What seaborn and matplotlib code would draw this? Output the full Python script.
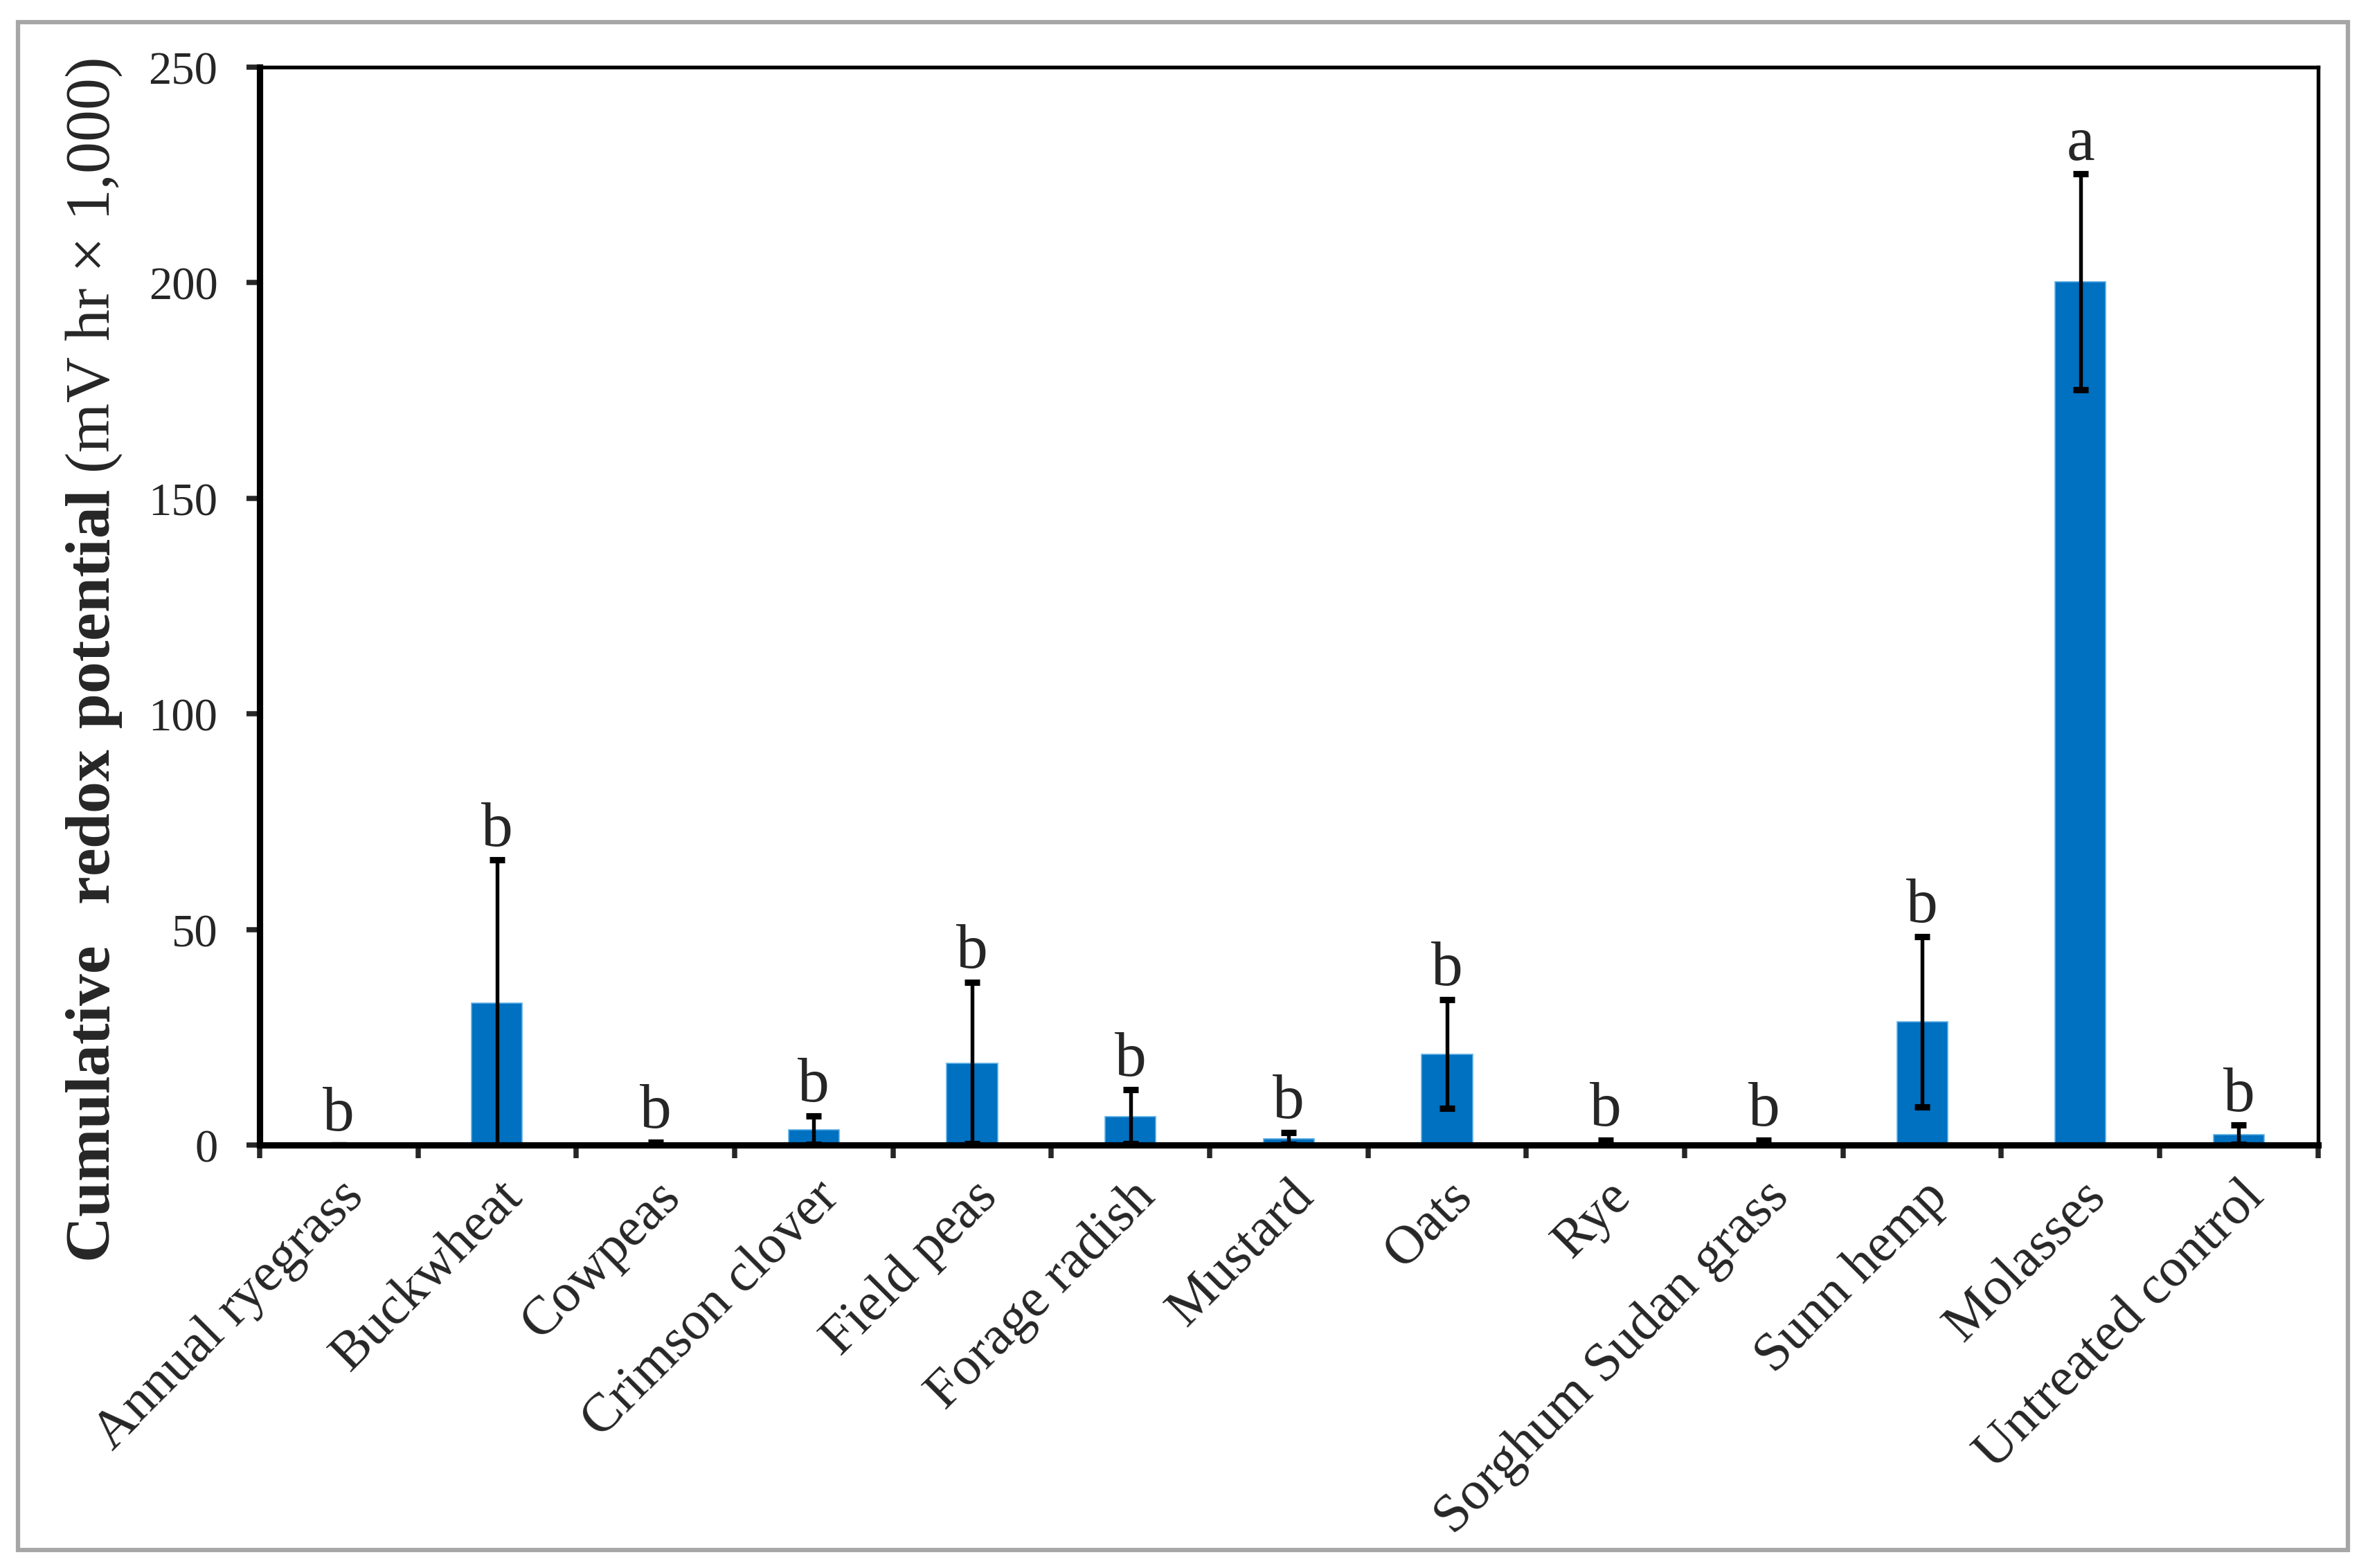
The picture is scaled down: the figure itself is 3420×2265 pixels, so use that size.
import numpy as np
import matplotlib
matplotlib.use("Agg")
import matplotlib.pyplot as plt
from matplotlib.patches import Rectangle
import seaborn as sns

# ================= DATA =================
treatments = [
    "Annual ryegrass", "Buckwheat", "Cowpeas", "Crimson clover", "Field peas",
    "Forage radish", "Mustard", "Oats", "Rye", "Sorghum Sudan grass",
    "Sunn hemp", "Molasses", "Untreated control",
]
redox_mean = [0.0, 32.9, 0.3, 3.5, 19.0, 6.6, 1.5, 21.1, 0.4, 0.5, 28.6, 200.2, 2.4]
redox_err = [0.0, 33.2, 0.4, 3.3, 18.7, 6.2, 1.4, 12.6, 0.8, 0.7, 19.7, 25.0, 2.2]
letters = ["b", "b", "b", "b", "b", "b", "b", "b", "b", "b", "b", "a", "b"]
y_ticks = [0, 50, 100, 150, 200, 250]

# ================= STYLE =================
sns.set_style("white")
plt.rcParams["font.family"] = ["Liberation Serif", "DejaVu Serif"]
plt.rcParams["mathtext.fontset"] = "custom"
plt.rcParams["mathtext.rm"] = "Liberation Serif"
plt.rcParams["mathtext.bf"] = "Liberation Serif:bold"

BAR_COLOR = "#0070C0"

fig = plt.figure(figsize=(11.4, 7.5533), dpi=300)
ax = fig.add_axes([0.1096, 0.2696, 0.8693, 0.6872])

sns.barplot(x=treatments, y=redox_mean, color=BAR_COLOR, width=0.32,
            saturation=1, edgecolor="#5FB0E6", linewidth=0.4, ax=ax)

x = np.arange(len(treatments))
ax.errorbar(x, redox_mean, yerr=redox_err, fmt="none", ecolor="black",
            elinewidth=1.3, capsize=2.6, capthick=2.2, zorder=5)

# significance letters
for xi, m, e, lab in zip(x, redox_mean, redox_err, letters):
    ax.text(xi, m + e + 3.5, lab, ha="center", va="baseline", fontsize=22)

ax.set_xlim(-0.5, len(treatments) - 0.5)
ax.set_ylim(0, 250)
ax.set_yticks(y_ticks)
ax.set_yticklabels([str(t) for t in y_ticks], fontsize=16)

# ticks between categories, labels at centers
ax.set_xticks(x)
ax.set_xticks(np.arange(-0.5, len(treatments)), minor=True)
ax.tick_params(axis="x", which="major", length=0, pad=9)
ax.tick_params(axis="x", which="minor", length=4.5, width=1.8, direction="out",
               bottom=True)
ax.tick_params(axis="y", which="major", length=4.5, width=1.8, direction="out",
               left=True, pad=10)
ax.set_xticklabels(treatments, rotation=45, ha="right", va="top",
                   rotation_mode="anchor", fontsize=19)
ax.set_xlabel("")

ax.set_ylabel(r"$\mathbf{Cumulative\ \ redox\ potential}$ (mV hr $\times$ 1,000)",
              fontsize=22)
ax.yaxis.set_label_coords(-0.066, 0.45)

for side in ["left", "bottom"]:
    ax.spines[side].set_linewidth(2.2)
    ax.spines[side].set_color("black")
for side in ["top", "right"]:
    ax.spines[side].set_linewidth(1.3)
    ax.spines[side].set_color("black")
    ax.spines[side].set_visible(True)

# outer frame
fig.patches.append(Rectangle((0.0076, 0.0115), 0.984, 0.974, transform=fig.transFigure,
                             fill=False, edgecolor="#A6A6A6", linewidth=1.5))

fig.savefig("out.png", dpi=300)
